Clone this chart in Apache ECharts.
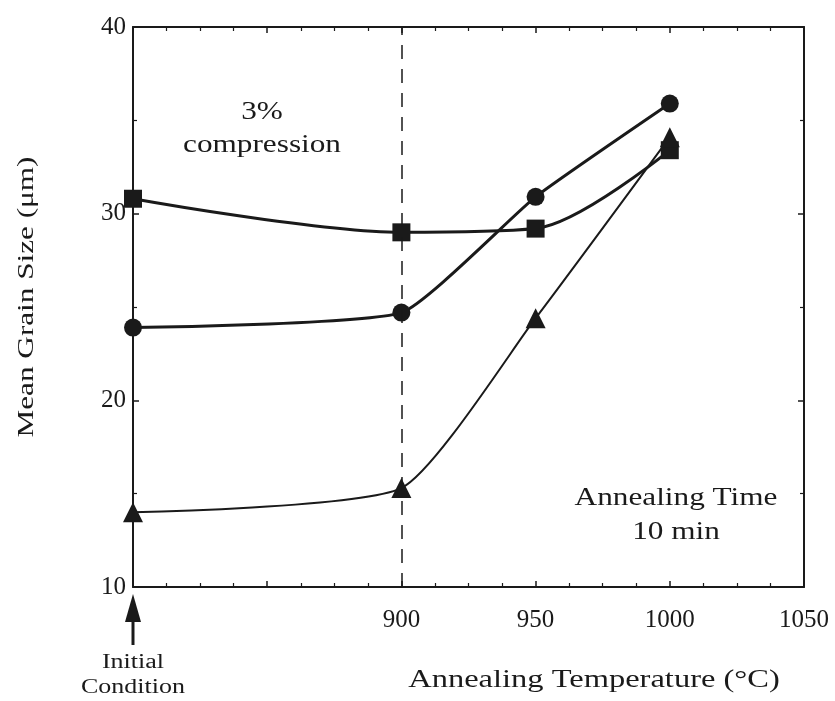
<!DOCTYPE html>
<html>
<head>
<meta charset="utf-8">
<script src="https://cdn.jsdelivr.net/npm/echarts@6/dist/echarts.min.js"></script>
<style>
  html, body { margin: 0; background: #fff; }
  #chart { width: 835px; height: 701px; }
</style>
</head>
<body>
<div id="chart"></div>
<script>
// annealing temperature (°C), 800 = initial condition
const temperatures = [800, 900, 950, 1000];
// mean grain size (µm)
const squareSizes = [30.8, 29.0, 29.2, 33.4];
const circleSizes = [23.9, 24.7, 30.9, 35.9];
const triangleSizes = [14.0, 15.3, 24.4, 34.1];
const xTickLabels = [900, 950, 1000, 1050];
const dashedAt = 900;

const serif = "'Liberation Serif', 'DejaVu Serif', serif";
const ink = "#1a1a1a";

function pairs(ys) {
  return temperatures.map((t, i) => [t, ys[i]]);
}

// stretched serif text, like the scanned figure
function label(text, x, y, size, stretch, extra) {
  return Object.assign({
    type: "text", x: x, y: y, scaleX: stretch,
    style: {
      text: text, x: 0, y: 0, align: "center", verticalAlign: "middle",
      fill: ink, font: size + "px " + serif
    }
  }, extra || {});
}

const axisLine = { show: true, onZero: false, lineStyle: { color: ink, width: 2 } };
const tick = { show: true, inside: true, length: 6, lineStyle: { color: ink, width: 1.5 } };
const minor = { show: true, length: 4, lineStyle: { color: ink, width: 1.2 } };

const chart = echarts.init(document.getElementById("chart"));
const option = {
  backgroundColor: "#fff",
  animation: false,
  grid: { left: 133, right: 31, top: 27, bottom: 114 },
  xAxis: [
    {
      type: "value", min: 800, max: 1050, interval: 50,
      axisLine: axisLine, axisTick: tick,
      minorTick: Object.assign({ splitNumber: 4 }, minor),
      splitLine: { show: false },
      axisLabel: {
        margin: 21, color: ink, fontFamily: serif, fontSize: 25,
        formatter: v => (xTickLabels.indexOf(v) >= 0 ? String(v) : "")
      }
    },
    {
      type: "value", position: "top", min: 800, max: 1050, interval: 50,
      axisLine: axisLine, axisTick: tick,
      minorTick: Object.assign({ splitNumber: 4 }, minor),
      splitLine: { show: false }, axisLabel: { show: false }
    }
  ],
  yAxis: [
    {
      type: "value", min: 10, max: 40, interval: 10,
      axisLine: axisLine, axisTick: tick,
      minorTick: Object.assign({ splitNumber: 2 }, minor),
      splitLine: { show: false },
      axisLabel: {
        margin: 7, color: ink, fontFamily: serif, fontSize: 25,
        padding: [0, 0, 10, 0]
      }
    },
    {
      type: "value", position: "right", min: 10, max: 40, interval: 10,
      axisLine: axisLine, axisTick: tick,
      minorTick: Object.assign({ splitNumber: 2 }, minor),
      splitLine: { show: false }, axisLabel: { show: false }
    }
  ],
  series: [
    {
      type: "line", data: pairs(squareSizes), smooth: 0.3,
      symbol: "rect", symbolSize: 18, clip: false,
      lineStyle: { color: ink, width: 3 }, itemStyle: { color: ink },
      markLine: {
        silent: true, symbol: "none", label: { show: false },
        lineStyle: { color: ink, width: 1.5, type: [14, 10] },
        data: [{ xAxis: dashedAt }]
      }
    },
    {
      type: "line", data: pairs(circleSizes), smooth: 0.15,
      symbol: "circle", symbolSize: 18, clip: false,
      lineStyle: { color: ink, width: 3 }, itemStyle: { color: ink }
    },
    {
      type: "line", data: pairs(triangleSizes), smooth: 0.18,
      symbol: "triangle", symbolSize: 20, clip: false,
      lineStyle: { color: ink, width: 2 }, itemStyle: { color: ink }
    }
  ]
};
chart.setOption(option);

// annotations; the "Initial Condition" marker sits under x = 800
const p = chart.convertToPixel({ xAxisIndex: 0, yAxisIndex: 0 }, [800, 10]);
chart.setOption({
  graphic: [
    label("3%", 262, 112, 25, 1.25),
    label("compression", 262, 145, 25, 1.25),
    label("Annealing Time", 676, 498, 25, 1.25),
    label("10 min", 676, 532, 25, 1.25),
    label("Annealing Temperature (°C)", 594, 680, 26, 1.25),
    label("Mean Grain Size (μm)", 27, 297, 24, 1.3, { rotation: Math.PI / 2 }),
    {
      type: "polygon",
      shape: { points: [[p[0], p[1] + 7], [p[0] - 8, p[1] + 35], [p[0] + 8, p[1] + 35]] },
      style: { fill: ink }
    },
    {
      type: "rect",
      shape: { x: p[0] - 1.5, y: p[1] + 30, width: 3, height: 28 },
      style: { fill: ink }
    },
    label("Initial", p[0], p[1] + 76, 20, 1.3),
    label("Condition", p[0], p[1] + 101, 20, 1.3)
  ]
});

window.onresize = function () {
  chart.resize();
};
</script>
</body>
</html>
